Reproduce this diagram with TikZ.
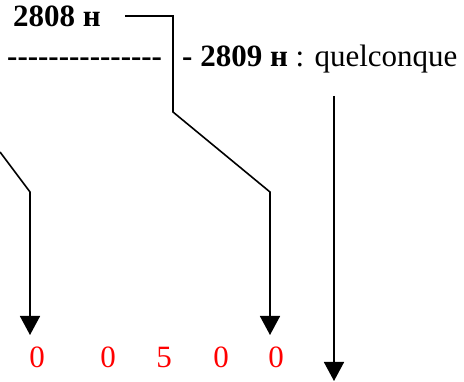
\documentclass[tikz,border=0pt]{standalone}
\usepackage{fontspec}
\setmainfont{Liberation Serif}
\usepackage{tikz}
\usetikzlibrary{arrows.meta,positioning}

\begin{document}
\begin{tikzpicture}[x=1pt, y=-1pt,
    txt/.style={anchor=base west, inner sep=0pt, font=\fontsize{31}{37}\selectfont},
    digit/.style={anchor=base, inner sep=0pt, text=red, font=\fontsize{31}{37}\selectfont},
    wire/.style={line width=1.6pt},
    arr/.style={wire, -{Triangle[length=19pt, width=20pt]}}]
    \useasboundingbox (0,0) rectangle (464,382);

    % labels on top
    \node[txt] (adr1) at (13,27) {\textbf{2808 н}};
    \node[txt] (dash) at (7,67) {\textbf{-{}-{}-{}-{}-{}-{}-{}-{}-{}-{}-{}-{}-{}-{}-{}}};
    \node[txt] (adr2) at (182,67) {\textbf{- 2809 н} : quelconque};

    % the five digits
    \node[digit] (d1) at (37,368) {0};
    \node[digit] (d2) at (108,368) {0};
    \node[digit] (d3) at (164,368) {5};
    \node[digit] (d4) at (221,368) {0};
    \node[digit] (d5) at (276,368) {0};

    \coordinate (in1) at (0,152);
    \coordinate (tip1) at (30,335);
    \coordinate (tip2) at (270,335);
    \coordinate (top3) at (334,96);
    \coordinate (tip3) at (334,381);

    \draw[arr] (in1) -- (30,192) -- (tip1);
    \draw[arr] ([xshift=24pt,yshift=11pt]adr1.base east) -| (173,112) -- (270,192) -- (tip2);
    \draw[arr] (top3) -- (tip3);
\end{tikzpicture}
\end{document}
